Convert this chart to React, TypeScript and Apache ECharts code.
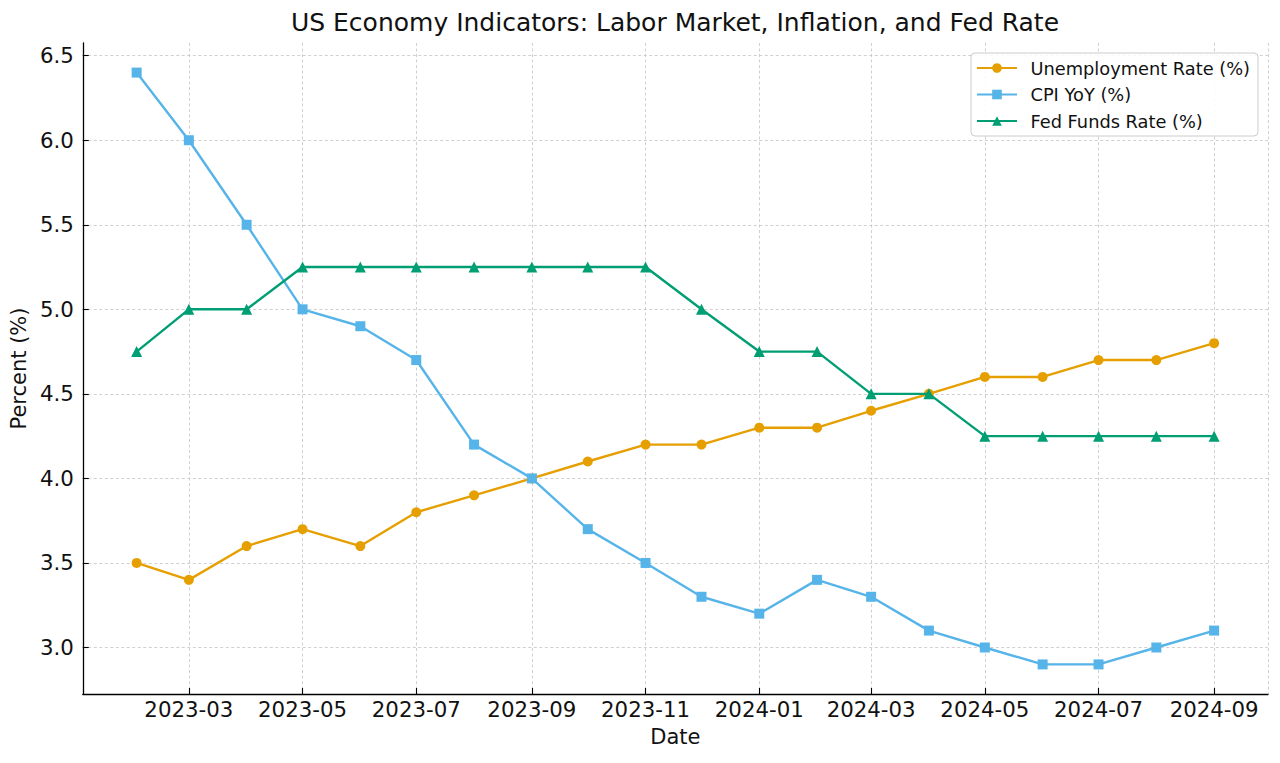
import React, { useEffect, useRef } from 'react';
import * as echarts from 'echarts';

const months = [
  '2023-02', '2023-03', '2023-04', '2023-05', '2023-06', '2023-07', '2023-08', '2023-09', '2023-10', '2023-11',
  '2023-12', '2024-01', '2024-02', '2024-03', '2024-04', '2024-05', '2024-06', '2024-07', '2024-08', '2024-09',
];
const unemployment = [3.5, 3.4, 3.6, 3.7, 3.6, 3.8, 3.9, 4.0, 4.1, 4.2, 4.2, 4.3, 4.3, 4.4, 4.5, 4.6, 4.6, 4.7, 4.7, 4.8];
const cpi = [6.4, 6.0, 5.5, 5.0, 4.9, 4.7, 4.2, 4.0, 3.7, 3.5, 3.3, 3.2, 3.4, 3.3, 3.1, 3.0, 2.9, 2.9, 3.0, 3.1];
const fedFunds = [4.75, 5.0, 5.0, 5.25, 5.25, 5.25, 5.25, 5.25, 5.25, 5.25, 5.0, 4.75, 4.75, 4.5, 4.5, 4.25, 4.25, 4.25, 4.25, 4.25];
const yTicks = [3.0, 3.5, 4.0, 4.5, 5.0, 5.5, 6.0, 6.5];

const seriesNames = ['Unemployment Rate (%)', 'CPI YoY (%)', 'Fed Funds Rate (%)'];
const colors = ['#E69F00', '#56B4E9', '#009E73'];

const DAY = 24 * 3600 * 1000;
const toTs = (m: string) => {
  const [y, mo] = m.split('-').map(Number);
  return Date.UTC(y, mo - 1, 1);
};
const fmtMonth = (v: number) => {
  const d = new Date(v);
  return `${d.getUTCFullYear()}-${String(d.getUTCMonth() + 1).padStart(2, '0')}`;
};

const FONT = 'DejaVu Sans';

export default function App() {
  const ref = useRef<HTMLDivElement>(null);
  useEffect(() => {
    document.body.style.margin = '0';
    if (!ref.current) return;
    const chart = echarts.init(ref.current, null, { renderer: 'svg' });
    const xs = months.map(toTs);
    const xSpan = xs[xs.length - 1] - xs[0];
    const all = [...unemployment, ...cpi, ...fedFunds];
    const yLo = Math.min(...all);
    const yHi = Math.max(...all);
    const ySpan = yHi - yLo;
    const gridLine = { show: true, lineStyle: { color: '#c4c4c4', width: 0.8, type: [3, 2.5] as any } };
    const mk = (i: number, data: number[], symbol: string, size: number) => ({
      name: seriesNames[i],
      type: 'line',
      data: xs.map((x, k) => [x, data[k]]),
      symbol,
      symbolSize: size,
      color: colors[i],
      lineStyle: { width: 2.4, color: colors[i] },
      itemStyle: { color: colors[i] },
      z: 3 + i,
    });
    chart.setOption({
      animation: false,
      useUTC: true,
      textStyle: { fontFamily: FONT },
      title: {
        text: 'US Economy Indicators: Labor Market, Inflation, and Fed Rate',
        left: 675,
        textAlign: 'center',
        top: 10,
        padding: 0,
        textStyle: { fontFamily: FONT, fontSize: 25, fontWeight: 'normal', color: '#111' },
      },
      legend: {
        orient: 'vertical',
        right: 22,
        top: 53,
        padding: [6, 8, 6, 5],
        itemWidth: 40,
        itemHeight: 12,
        itemGap: 8.5,
        borderColor: '#cccccc',
        borderWidth: 1,
        borderRadius: 4,
        backgroundColor: 'rgba(255,255,255,0.85)',
        textStyle: { fontFamily: FONT, fontSize: 17.8, color: '#111', lineHeight: 18, padding: [0, 0, 0, 8.5] },
        data: seriesNames,
      },
      grid: { left: 82, right: 12, top: 43, bottom: 69, containLabel: false },
      xAxis: {
        type: 'time',
        min: xs[0] - 0.05 * xSpan,
        max: xs[xs.length - 1] + 0.05 * xSpan,
        minInterval: 70 * DAY,
        maxInterval: 70 * DAY,
        splitNumber: 9,
        name: 'Date',
        nameLocation: 'middle',
        nameGap: 32,
        nameTextStyle: { fontFamily: FONT, fontSize: 21, color: '#111' },
        axisLine: { show: true, lineStyle: { color: '#000', width: 1.3 } },
        axisTick: { show: true, inside: true, length: 6, lineStyle: { color: '#000', width: 1.1 } },
        axisLabel: {
          fontFamily: FONT,
          fontSize: 21.3,
          color: '#111',
          margin: 5,
          hideOverlap: false,
          formatter: (v: number) => fmtMonth(v),
        },
        splitLine: gridLine,
      },
      yAxis: {
        type: 'value',
        min: yLo - 0.05 * ySpan,
        max: yHi + 0.05 * ySpan,
        interval: 0.5,
        name: 'Percent (%)',
        nameLocation: 'middle',
        nameGap: 52,
        nameTextStyle: { fontFamily: FONT, fontSize: 21, color: '#111' },
        axisLine: { show: true, lineStyle: { color: '#000', width: 1.3 } },
        axisTick: { show: true, inside: true, length: 6, lineStyle: { color: '#000', width: 1.1 }, customValues: yTicks },
        axisLabel: {
          fontFamily: FONT,
          fontSize: 21.3,
          color: '#111',
          margin: 9,
          customValues: yTicks,
          formatter: (v: number) => v.toFixed(1),
        },
        splitLine: gridLine,
      },
      series: [
        mk(0, unemployment, 'circle', 10),
        mk(1, cpi, 'rect', 10),
        mk(2, fedFunds, 'triangle', 11),
      ],
    });
    return () => chart.dispose();
  }, []);
  return <div ref={ref} style={{ width: 1280, height: 763 }} />;
}
